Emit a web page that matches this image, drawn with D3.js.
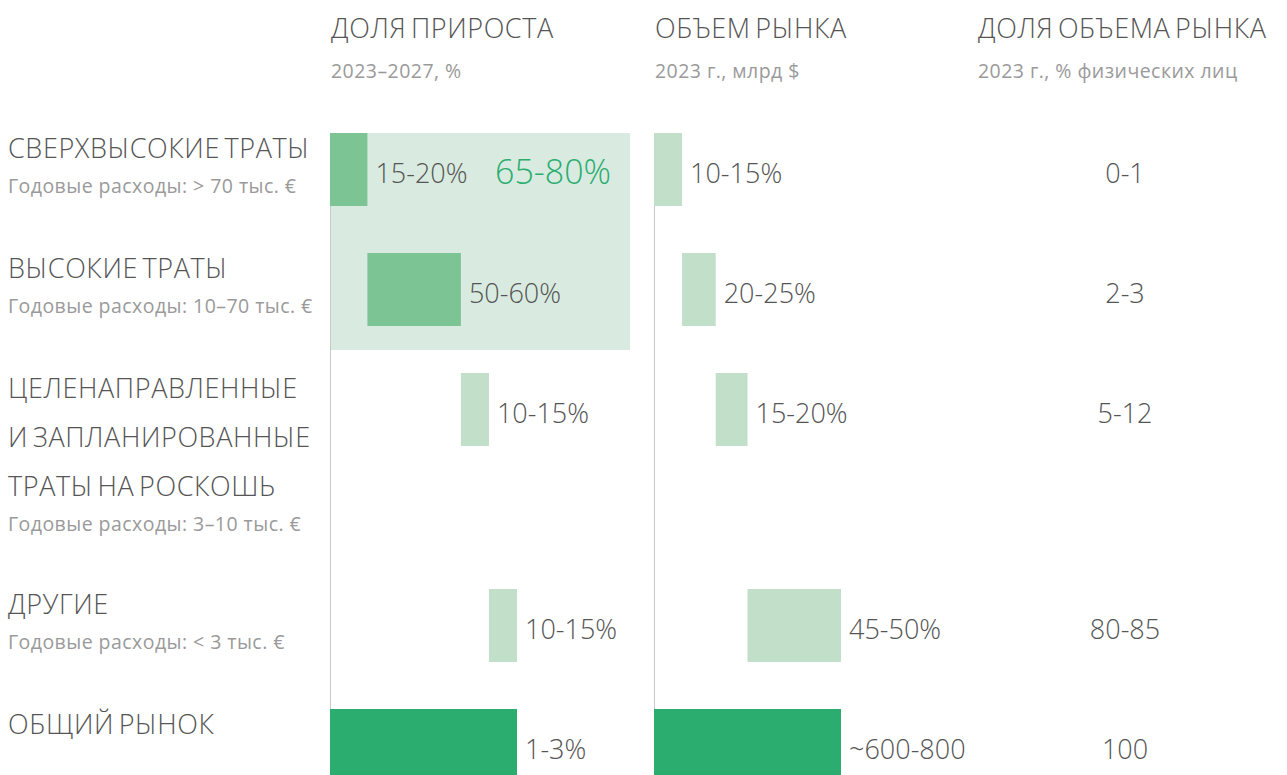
<!DOCTYPE html>
<html>
<head>
<meta charset="utf-8">
<script src="https://cdn.jsdelivr.net/npm/d3@7"></script>
<style>
    body { margin: 0; background: #fff; overflow: hidden; }
    svg text { font-family: "Open Sans", sans-serif; font-weight: 300; }
    svg text.caps { letter-spacing: 0.6px; word-spacing: -3px; }
    svg text.small { font-weight: 400; letter-spacing: 0.45px; }
</style>
</head>
<body>
<div id="chart"></div>
<script>

// Segments (rows)
const segments = ["СВЕРХВЫСОКИЕ ТРАТЫ", "ВЫСОКИЕ ТРАТЫ", "ЦЕЛЕНАПРАВЛЕННЫЕ\nИ ЗАПЛАНИРОВАННЫЕ\nТРАТЫ НА РОСКОШЬ", "ДРУГИЕ", "ОБЩИЙ РЫНОК"];
const spending = ["Годовые расходы: > 70 тыс. €", "Годовые расходы: 10–70 тыс. €", "Годовые расходы: 3–10 тыс. €", "Годовые расходы: < 3 тыс. €", ""];

// Bar widths, share of total (%)
const growthShare = [20, 50, 15, 15];
const marketShare = [15, 18, 17, 50];

// Labels
const growthLabels = ["15-20%", "50-60%", "10-15%", "10-15%", "1-3%"];
const marketLabels = ["10-15%", "20-25%", "15-20%", "45-50%", "~600-800"];
const peopleLabels = ["0-1", "2-3", "5-12", "80-85", "100"];
const highlightLabel = "65-80%";

const headers = ["ДОЛЯ ПРИРОСТА", "ОБЪЕМ РЫНКА", "ДОЛЯ ОБЪЕМА РЫНКА"];
const subHeaders = ["2023–2027, %", "2023 г., млрд $", "2023 г., % физических лиц"];

class WaterfallTable {
    constructor(parentElement) {
        this.parentElement = parentElement;
        this.initVis();
    }

    initVis() {
        let vis = this;

        vis.width = 1287;
        vis.height = 775;

        vis.svg = d3.select("#" + vis.parentElement).append("svg")
            .attr("width", vis.width)
            .attr("height", vis.height);

        vis.colors = { dark: "#2bad70", mid: "#7dc495", light: "#c2dfca", highlight: "#d9ebe0",
                       text: "#555555", sub: "#9a9a9a", axis: "#c9c9c9" };

        vis.colX = [330, 654, 977];
        vis.x = d3.scaleLinear().domain([0, 100]).range([0, 187]);

        vis.barH = 73;
        vis.lineH = 49;
        vis.big = "27px";
        vis.small = "19.5px";

        // row tops grow with the number of title lines
        vis.rows = [];
        let top = 133;
        segments.forEach((s, i) => {
            let lines = s.split("\n");
            vis.rows.push({ key: i, title: lines, sub: spending[i], top: top });
            top += 120 + (lines.length - 1) * 48;
        });

        vis.wrangleData();
    }

    wrangleData() {
        let vis = this;

        let waterfall = (values) => {
            let acc = 0;
            let out = values.map(v => { let d = { start: acc, value: v }; acc += v; return d; });
            out.push({ start: 0, value: acc });
            return out;
        };

        vis.growth = waterfall(growthShare);
        vis.market = waterfall(marketShare);

        vis.updateVis();
    }

    updateVis() {
        let vis = this;
        let c = vis.colors;

        // Column headers
        vis.svg.selectAll(".header")
            .data(headers)
            .enter().append("text")
            .attr("class", "header caps")
            .attr("x", (d, i) => vis.colX[i] + 1)
            .attr("y", 38)
            .attr("fill", c.text)
            .style("font-size", vis.big)
            .text(d => d);

        vis.svg.selectAll(".subheader")
            .data(subHeaders)
            .enter().append("text")
            .attr("class", "subheader small")
            .attr("x", (d, i) => vis.colX[i] + 1)
            .attr("y", 78)
            .attr("fill", c.sub)
            .style("font-size", vis.small)
            .text(d => d);

        // Highlight behind the first two rows
        vis.svg.append("rect")
            .attr("x", vis.colX[0])
            .attr("y", vis.rows[0].top)
            .attr("width", 300)
            .attr("height", vis.rows[1].top + vis.barH + 24 - vis.rows[0].top)
            .attr("fill", c.highlight);

        // Vertical axis lines
        vis.svg.selectAll(".axis-line")
            .data([0, 1])
            .enter().append("line")
            .attr("class", "axis-line")
            .attr("x1", i => vis.colX[i] + 0.5)
            .attr("x2", i => vis.colX[i] + 0.5)
            .attr("y1", vis.rows[0].top)
            .attr("y2", vis.height)
            .attr("stroke", c.axis)
            .attr("stroke-width", 1);

        // Row labels
        let labels = vis.svg.selectAll(".row-label")
            .data(vis.rows)
            .enter().append("g")
            .attr("class", "row-label");

        labels.selectAll(".title")
            .data(d => d.title.map((t, j) => ({ t: t, y: d.top + 25 + j * vis.lineH })))
            .enter().append("text")
            .attr("class", "title caps")
            .attr("x", 8)
            .attr("y", d => d.y)
            .attr("fill", c.text)
            .style("font-size", vis.big)
            .text(d => d.t);

        labels.append("text")
            .attr("class", "small")
            .attr("x", 8)
            .attr("y", d => d.top + 25 + (d.title.length - 1) * vis.lineH + 35)
            .attr("fill", c.sub)
            .style("font-size", vis.small)
            .text(d => d.sub);

        // Bars
        let growthColor = (i) => i < 2 ? c.mid : (i === 4 ? c.dark : c.light);
        let marketColor = (i) => i === 4 ? c.dark : c.light;

        let drawColumn = (data, col, colorFn, texts) => {
            let g = vis.svg.append("g").attr("transform", `translate(${vis.colX[col]}, 0)`);

            g.selectAll("rect")
                .data(data)
                .enter().append("rect")
                .attr("x", d => vis.x(d.start))
                .attr("y", (d, i) => vis.rows[i].top)
                .attr("width", d => vis.x(d.value))
                .attr("height", vis.barH)
                .attr("fill", (d, i) => colorFn(i));

            g.selectAll("text")
                .data(data)
                .enter().append("text")
                .attr("x", d => vis.x(d.start + d.value) + 8)
                .attr("y", (d, i) => vis.rows[i].top + 50)
                .attr("fill", c.text)
                .style("font-size", vis.big)
                .text((d, i) => texts[i]);
        };

        drawColumn(vis.growth, 0, growthColor, growthLabels);
        drawColumn(vis.market, 1, marketColor, marketLabels);

        vis.svg.append("text")
            .attr("x", vis.colX[0] + 281)
            .attr("y", vis.rows[0].top + 51)
            .attr("text-anchor", "end")
            .attr("fill", c.dark)
            .style("font-size", "34px")
            .text(highlightLabel);

        // Third column, text only
        vis.svg.selectAll(".people")
            .data(peopleLabels)
            .enter().append("text")
            .attr("class", "people")
            .attr("x", 1125)
            .attr("y", (d, i) => vis.rows[i].top + 50)
            .attr("text-anchor", "middle")
            .attr("fill", c.text)
            .style("font-size", vis.big)
            .text(d => d);
    }
}

let waterfallTable = new WaterfallTable("chart");
</script>
</body>
</html>
